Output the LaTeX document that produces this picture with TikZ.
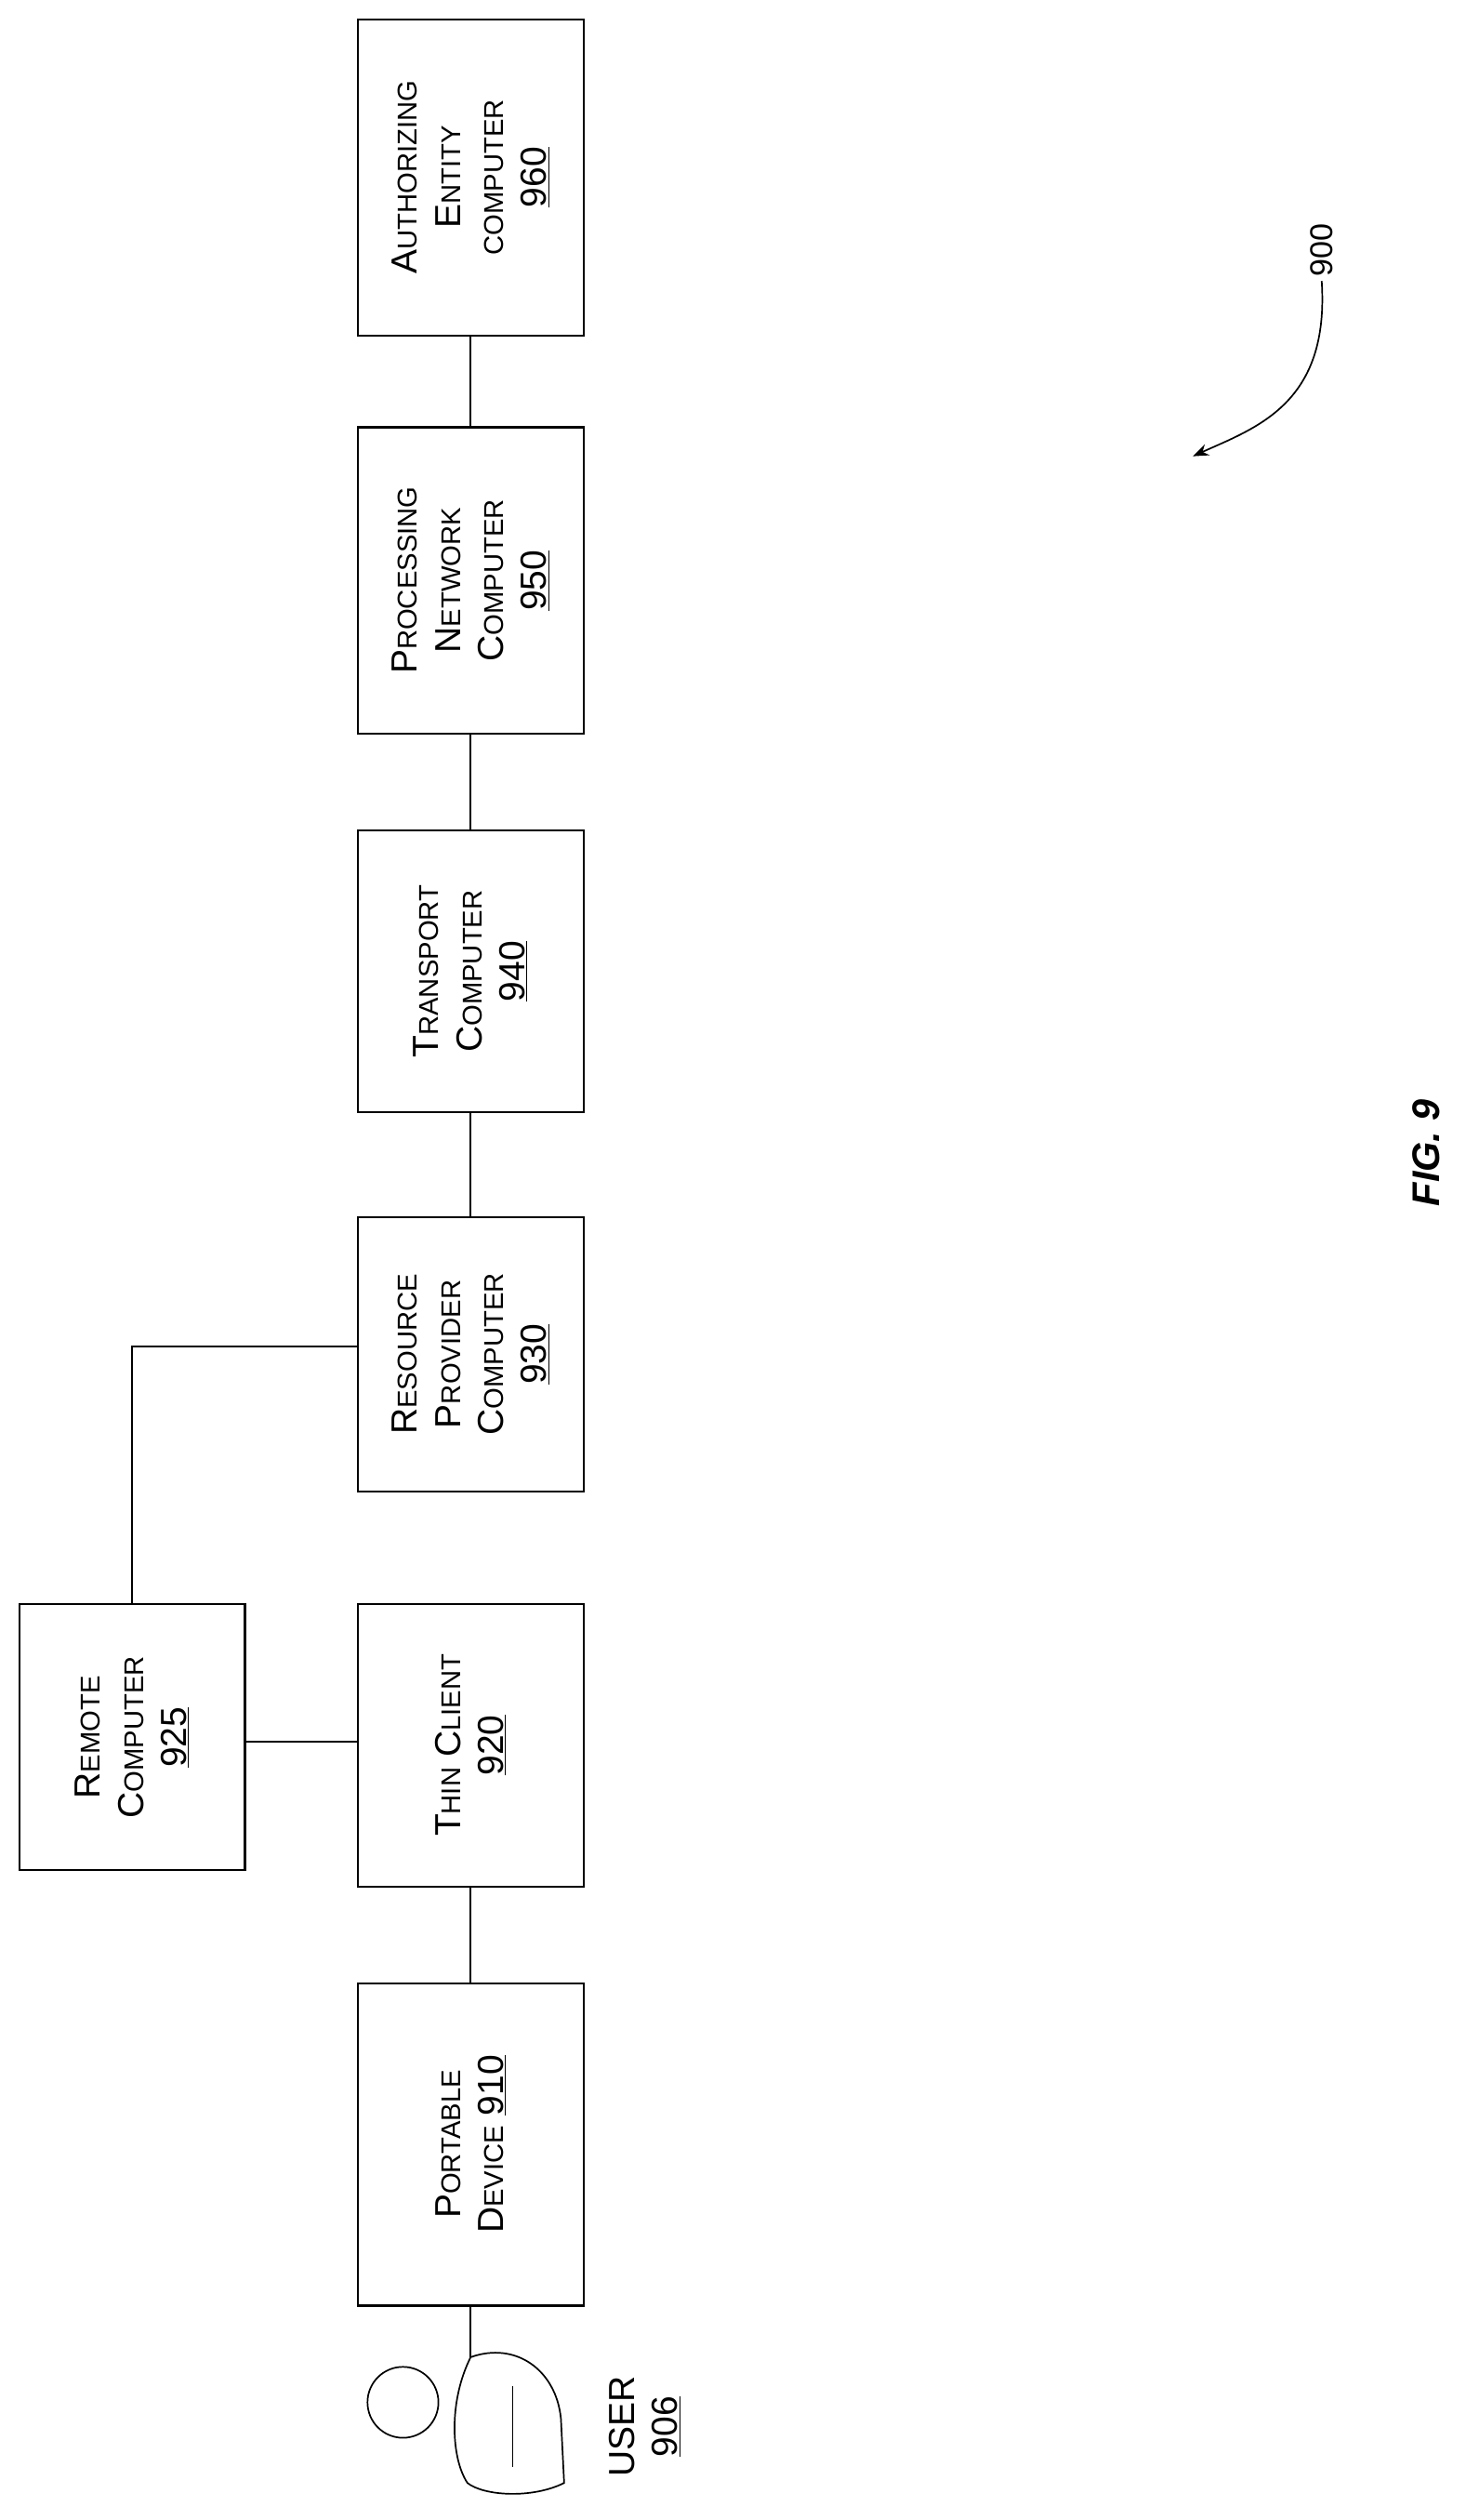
\documentclass[tikz,border=0pt]{standalone}
\usepackage{fontspec}
\setmainfont{Liberation Sans}
\usetikzlibrary{arrows.meta}
\newcommand{\Sc}[2]{{\fontsize{32}{38}\selectfont #1}{\fontsize{24}{38}\selectfont #2}}
\begin{document}
\begin{tikzpicture}[x=0.05cm,y=-0.05cm,line width=1.6pt,
  box/.style={draw,line width=1.8pt,inner sep=0pt},
  lbl/.style={rotate=90,align=center,font=\fontsize{32}{38}\selectfont}]
\useasboundingbox (0,0) rectangle (909,1563);
\node[box,minimum width=7cm,minimum height=9.8cm] (b960) at (292,110) {};
\node[lbl] (t960) at (b960) {\Sc{A}{UTHORIZING}\\\Sc{E}{NTITY}\\{\fontsize{24}{38}\selectfont COMPUTER}\\\underline{960}};
\node[box,minimum width=7cm,minimum height=9.5cm] (b950) at (292,360) {};
\node[lbl] at (b950) {\Sc{P}{ROCESSING}\\\Sc{N}{ETWORK}\\\Sc{C}{OMPUTER}\\\underline{950}};
\node[box,minimum width=7cm,minimum height=8.75cm] (b940) at (292,602.5) {};
\node[lbl] at (b940) {\Sc{T}{RANSPORT}\\\Sc{C}{OMPUTER}\\\underline{940}};
\node[box,minimum width=7cm,minimum height=8.5cm] (b930) at (292,840) {};
\node[lbl] at (b930) {\Sc{R}{ESOURCE}\\\Sc{P}{ROVIDER}\\\Sc{C}{OMPUTER}\\\underline{930}};
\node[box,minimum width=7cm,minimum height=8.25cm] (b925) at (82,1077.5) {};
\node[lbl] at (b925) {\Sc{R}{EMOTE}\\\Sc{C}{OMPUTER}\\\underline{925}};
\node[box,minimum width=7cm,minimum height=8.75cm] (b920) at (292,1082.5) {};
\node[lbl] at (b920) {\Sc{T}{HIN} \Sc{C}{LIENT}\\\underline{920}};
\node[box,minimum width=7cm,minimum height=10cm] (b910) at (292,1330) {};
\node[lbl] at (b910) {\Sc{P}{ORTABLE}\\\Sc{D}{EVICE} \underline{910}};
\draw (b960.south) -- (b950.north);
\draw (b950.south) -- (b940.north);
\draw (b940.south) -- (b930.north);
\draw (b920.south) -- (b910.north);
\draw (b925.east |- 0,1080) -- (b920.west |- 0,1080);
\draw (b925.north) |- (b930.west |- 0,835);
% user
\coordinate (u) at (292,1462);
\draw (b910.south) -- (u);
\node[draw,circle,minimum size=2.2cm,line width=1.4pt] (head) at (250,1490) {};
\draw[line width=1.4pt] (u) .. controls (320,1452) and (345,1470) .. (348,1500)
  -- (350,1540) .. controls (330,1550) and (300,1548) .. (290,1540)
  .. controls (280,1525) and (278,1490) .. (u);
\draw[line width=0.8pt] (318,1480) -- (318,1530);
\node[rotate=90,align=center,font=\fontsize{32}{38}\selectfont] (user) at (400,1505) {USER\\\underline{906}};
% 900
\node[rotate=90,font=\fontsize{28}{34}\selectfont] (n900) at (820,155) {900};
\draw[-{Stealth[length=14pt]},line width=1.4pt] (n900.west) .. controls (825,250) and (780,265) .. (740,283);
\node[rotate=90,font=\fontsize{34}{40}\selectfont\bfseries\itshape] (fig) at (885,715) {FIG. 9};
\end{tikzpicture}
\end{document}
